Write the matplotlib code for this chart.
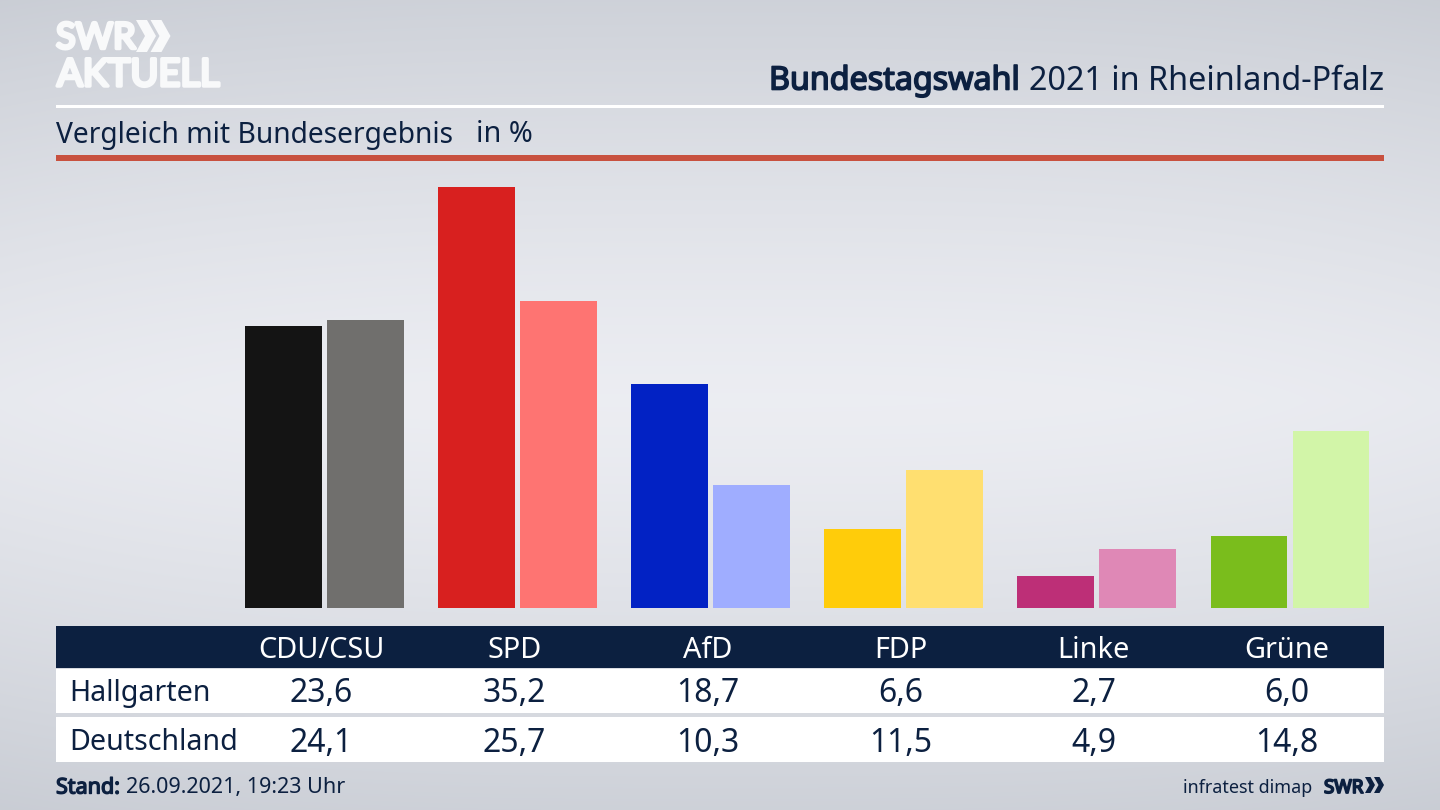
import numpy as np
import matplotlib
matplotlib.use("Agg")
import matplotlib.pyplot as plt
import matplotlib.patheffects as pe
from matplotlib.patches import Rectangle, Polygon

parties = ["CDU/CSU", "SPD", "AfD", "FDP", "Linke", "Grüne"]
hallgarten = [23.6, 35.2, 18.7, 6.6, 2.7, 6.0]
deutschland = [24.1, 25.7, 10.3, 11.5, 4.9, 14.8]
colors_local = ["#141414", "#d8201f", "#0222c4", "#ffcc0a", "#bd2f77", "#7abd1c"]
colors_national = ["#706f6d", "#fe7472", "#9fadff", "#ffdf70", "#df88b6", "#d2f5a8"]
row_labels = ["Hallgarten", "Deutschland"]

W, H = 1440, 810
NAVY = "#0c2040"
FONT = "Noto Sans"
plt.rcParams["font.family"] = [FONT, "DejaVu Sans"]

fig = plt.figure(figsize=(W / 100, H / 100), dpi=100)

# background gradient
bg = fig.add_axes([0, 0, 1, 1], zorder=0)
yy, xx = np.mgrid[0:H, 0:W]
t = np.abs(yy - 400) / 410.0
s = np.abs(xx - 720) / 720.0
shade = np.clip(t ** 1.3 * 0.85 + s ** 3 * 0.12, 0, 1)
top = np.array([0.785, 0.80, 0.83])
mid = np.array([0.925, 0.93, 0.95])
img = mid[None, None, :] + (top - mid)[None, None, :] * shade[..., None]
bg.imshow(img, aspect="auto", extent=(0, W, H, 0))
bg.axis("off")

# bars
GROUP = 193.1
X0 = 324.5
BASE = 608
UNIT = 421 / 35.2
ax = fig.add_axes([0, 0, 1, 1], zorder=1)
ax.set_xlim(-X0 / GROUP, (W - X0) / GROUP)
ax.set_ylim(-(H - BASE) / UNIT, BASE / UNIT)
ax.axis("off")
ax.patch.set_alpha(0)
x = np.arange(len(parties))
ax.bar(x - 0.2123, hallgarten, width=0.398, color=colors_local)
ax.bar(x + 0.2123, deutschland, width=0.398, color=colors_national)

# overlay in pixel coordinates
ov = fig.add_axes([0, 0, 1, 1], zorder=2)
ov.set_xlim(0, W)
ov.set_ylim(H, 0)
ov.axis("off")
ov.patch.set_alpha(0)

def rect(x0, y0, x1, y1, c):
    ov.add_patch(Rectangle((x0, y0), x1 - x0, y1 - y0, fc=c, ec="none"))

def bold(txt, lw, c):
    txt.set_path_effects([pe.withStroke(linewidth=lw, foreground=c)])

rect(56, 104.5, 1384, 107.5, "#ffffff")
rect(56, 155, 1384, 160.5, "#c8513f")
rect(56, 626, 1384, 668, NAVY)
rect(56, 668.5, 1384, 713, "#ffffff")
rect(56, 717, 1384, 762, "#ffffff")

ov.text(1384, 81, "2021 in Rheinland-Pfalz", ha="right", va="center", fontsize=23.3, color=NAVY)
ttl = ov.text(1020, 81, "Bundestagswahl", ha="right", va="center", fontsize=23.2, color=NAVY)
bold(ttl, 1.2, NAVY)
ov.text(56, 135, "Vergleich mit Bundesergebnis", ha="left", va="center", fontsize=20.3, color=NAVY)
ov.text(476, 135, "in %", ha="left", va="center", fontsize=20.7, color=NAVY)

centers = X0 + x * GROUP - 3
for cx, p, a, b in zip(centers, parties, hallgarten, deutschland):
    ov.text(cx, 650, p, ha="center", va="center", fontsize=20.8, color="#ffffff")
    ov.text(cx, 693, f"{a:.1f}".replace(".", ","), ha="center", va="center", fontsize=23, color=NAVY)
    ov.text(cx, 743, f"{b:.1f}".replace(".", ","), ha="center", va="center", fontsize=23, color=NAVY)
ov.text(69.5, 693, row_labels[0], ha="left", va="center", fontsize=20.6, color=NAVY)
ov.text(69.5, 743, row_labels[1], ha="left", va="center", fontsize=20.6, color=NAVY)

st = ov.text(56, 788, "Stand:", ha="left", va="center", fontsize=15.5, color=NAVY)
bold(st, 1.0, NAVY)
ov.text(126, 788, "26.09.2021, 19:23 Uhr", ha="left", va="center", fontsize=15.5, color=NAVY)
ov.text(1312, 788, "infratest dimap", ha="right", va="center", fontsize=12.9, color=NAVY)
sw = ov.text(1324, 788, "SWR", ha="left", va="center", fontsize=13.5, color=NAVY)
bold(sw, 1.3, NAVY)

def chevrons(x0, y0, h, w, gap, c):
    for k in range(2):
        xs = x0 + k * gap
        th = w * 0.55
        ov.add_patch(Polygon([(xs, y0), (xs + th, y0), (xs + w, y0 + h / 2),
                              (xs + th, y0 + h), (xs, y0 + h), (xs + w - th, y0 + h / 2)],
                             closed=True, fc=c, ec="none"))

chevrons(1365, 777, 16, 10, 9, NAVY)

# logo
LOGO = "#f8f9fa"
t1 = ov.text(56, 38, "SWR", ha="left", va="center", fontsize=26, color=LOGO, family="Lato")
bold(t1, 2.5, LOGO)
chevrons(136, 20, 32, 20, 14.5, LOGO)
t2 = ov.text(57, 75, "AKTUELL", ha="left", va="center", fontsize=27.4, color=LOGO, family="Lato")
bold(t2, 2.5, LOGO)

fig.savefig("out.png", dpi=100)
